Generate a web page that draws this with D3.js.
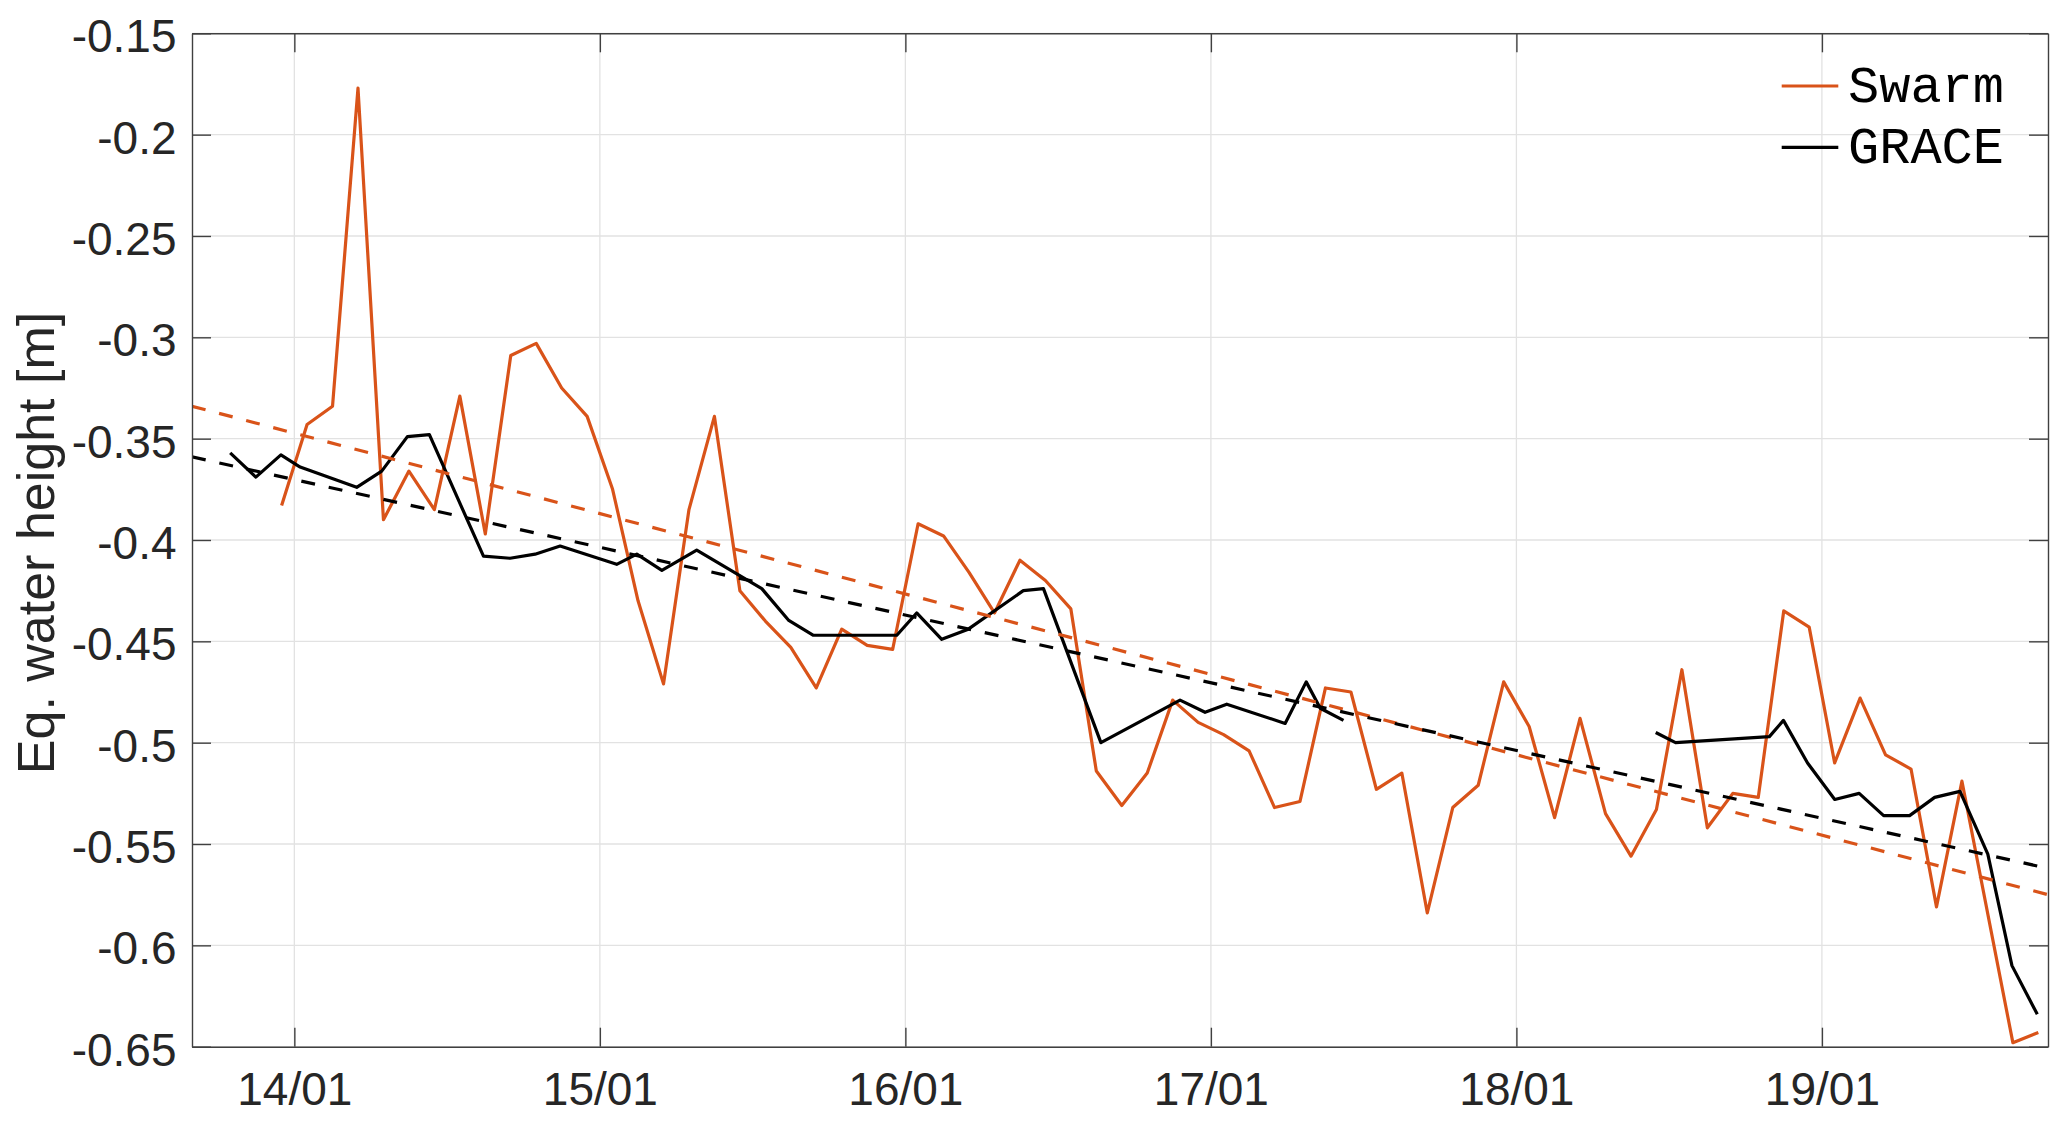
<!DOCTYPE html>
<html><head><meta charset="utf-8">
<script src="https://cdn.jsdelivr.net/npm/d3@7"></script>
<style>html,body{margin:0;padding:0;background:#fff;} svg{display:block;}</style>
</head><body>
<svg id="chart" width="2067" height="1124"></svg>
<script>
// ---- data ----
const swarmMonths = ["2013-12","2014-01","2014-02","2014-03","2014-04","2014-05","2014-06","2014-07","2014-08","2014-09","2014-10","2014-11",
  "2014-12","2015-01","2015-02","2015-03","2015-04","2015-05","2015-06","2015-07","2015-08","2015-09","2015-10","2015-11",
  "2015-12","2016-01","2016-02","2016-03","2016-04","2016-05","2016-06","2016-07","2016-08","2016-09","2016-10","2016-11",
  "2016-12","2017-01","2017-02","2017-03","2017-04","2017-05","2017-06","2017-07","2017-08","2017-09","2017-10","2017-11",
  "2017-12","2018-01","2018-02","2018-03","2018-04","2018-05","2018-06","2018-07","2018-08","2018-09","2018-10","2018-11",
  "2018-12","2019-01","2019-02","2019-03","2019-04","2019-05","2019-06","2019-08","2019-09"];
const swarmValues = [-0.383,-0.343,-0.334,-0.177,-0.390,-0.366,-0.385,-0.329,-0.397,-0.309,-0.303,-0.325,
  -0.339,-0.375,-0.430,-0.471,-0.385,-0.339,-0.425,-0.440,-0.453,-0.473,-0.444,-0.452,
  -0.454,-0.392,-0.398,-0.416,-0.436,-0.410,-0.420,-0.434,-0.514,-0.531,-0.515,-0.479,
  -0.490,-0.496,-0.504,-0.532,-0.529,-0.473,-0.475,-0.523,-0.515,-0.584,-0.532,-0.521,
  -0.470,-0.492,-0.537,-0.488,-0.535,-0.556,-0.533,-0.464,-0.542,-0.525,-0.527,-0.435,
  -0.443,-0.510,-0.478,-0.506,-0.513,-0.581,-0.519,-0.648,-0.643];

const graceYears = [2013.790,2013.874,2013.956,2014.019,2014.204,2014.286,2014.370,2014.442,2014.619,2014.706,2014.788,2014.870,
  2015.055,2015.121,2015.203,2015.317,2015.530,2015.617,2015.699,2015.972,2016.037,2016.119,2016.206,2016.386,2016.452,
  2016.640,2016.899,2016.981,2017.052,2017.243,2017.312,2017.358,2017.434,
  2017.900,
  2018.456,2018.521,2018.828,2018.874,2018.953,2019.042,2019.122,2019.202,2019.287,2019.369,2019.452,2019.543,2019.622,2019.705];
const graceValues = [-0.357,-0.369,-0.358,-0.364,-0.374,-0.366,-0.349,-0.348,-0.408,-0.409,-0.407,-0.403,
  -0.412,-0.407,-0.415,-0.405,-0.424,-0.4395,-0.447,-0.447,-0.436,-0.449,-0.444,-0.425,-0.424,
  -0.500,-0.479,-0.485,-0.481,-0.4905,-0.470,-0.483,-0.489,
  null,
  -0.495,-0.500,-0.497,-0.489,-0.510,-0.528,-0.525,-0.536,-0.536,-0.527,-0.524,-0.555,-0.610,-0.634];

const trendYears = [2013.665, 2019.740];
const swarmTrend = [-0.334, -0.575];
const graceTrend = [-0.359, -0.562];

const xDomain = [2013.665, 2019.740];
const yDomain = [-0.65, -0.15];
const xTickValues = [2014, 2015, 2016, 2017, 2018, 2019];
const xTickLabels = ["14/01", "15/01", "16/01", "17/01", "18/01", "19/01"];
const yTickValues = [-0.65, -0.6, -0.55, -0.5, -0.45, -0.4, -0.35, -0.3, -0.25, -0.2, -0.15];
const yTickLabels = ["-0.65", "-0.6", "-0.55", "-0.5", "-0.45", "-0.4", "-0.35", "-0.3", "-0.25", "-0.2", "-0.15"];
const seriesNames = ["Swarm", "GRACE"];
const seriesColors = ["#D95319", "#000000"];
const yLabel = "Eq. water height [m]";

// ---- layout ----
const L = 192, R = 2048, T = 33.3, B = 1046.7;
const svg = d3.select("#chart");
const x = d3.scaleLinear().domain(xDomain).range([L, R]);
const y = d3.scaleLinear().domain(yDomain).range([B, T]);
const tickFont = "'Liberation Sans', Arial, Helvetica, sans-serif";
const axisColor = "#404040";
const textColor = "#262626";
const lw = 3.2;

svg.append("rect").attr("x",0).attr("y",0).attr("width",2067).attr("height",1124).attr("fill","#fff");

// grid
const grid = svg.append("g").attr("stroke", "#e2e2e2").attr("stroke-width", 1.3);
grid.selectAll("line.gx").data(xTickValues).join("line")
  .attr("x1", d => x(d)).attr("x2", d => x(d)).attr("y1", T).attr("y2", B);
grid.selectAll("line.gy").data(yTickValues).join("line")
  .attr("x1", L).attr("x2", R).attr("y1", d => y(d)).attr("y2", d => y(d));

// clip
svg.append("clipPath").attr("id","clip").append("rect")
  .attr("x", L).attr("y", T).attr("width", R - L).attr("height", B - T);
const plot = svg.append("g").attr("clip-path","url(#clip)");

const swarmData = swarmMonths.map((m, i) => {
  const [yy, mm] = m.split("-").map(Number);
  return { t: yy + (mm - 0.5) / 12, v: swarmValues[i] };
});
const graceData = graceYears.map((t, i) => ({ t, v: graceValues[i] }));

const line = d3.line().defined(d => d.v !== null).x(d => x(d.t)).y(d => y(d.v));

plot.append("path").datum(swarmData).attr("d", line)
  .attr("fill","none").attr("stroke", seriesColors[0]).attr("stroke-width", lw)
  .attr("stroke-linejoin","round");
plot.append("path").datum(graceData).attr("d", line)
  .attr("fill","none").attr("stroke", seriesColors[1]).attr("stroke-width", lw)
  .attr("stroke-linejoin","round");

const trendS = trendYears.map((t, i) => ({ t, v: swarmTrend[i] }));
const trendG = trendYears.map((t, i) => ({ t, v: graceTrend[i] }));
plot.append("path").datum(trendS).attr("d", line)
  .attr("fill","none").attr("stroke", seriesColors[0]).attr("stroke-width", lw)
  .attr("stroke-dasharray","14,14");
plot.append("path").datum(trendG).attr("d", line)
  .attr("fill","none").attr("stroke", seriesColors[1]).attr("stroke-width", lw)
  .attr("stroke-dasharray","14,14");

// axes
function styleAxis(g) {
  g.select(".domain").attr("stroke", axisColor).attr("stroke-width", 1.4);
  g.selectAll(".tick line").attr("stroke", axisColor).attr("stroke-width", 1.4);
  g.selectAll(".tick text").attr("fill", textColor)
    .style("font-family", tickFont).style("font-size", "46px");
}
const gB = svg.append("g").attr("transform", `translate(0,${B})`)
  .call(d3.axisBottom(x).tickValues(xTickValues).tickFormat((d, i) => xTickLabels[i])
    .tickSizeInner(-19).tickSizeOuter(0));
styleAxis(gB);
gB.selectAll(".tick text").attr("y", 58.5).attr("dy", 0);

const gT = svg.append("g").attr("transform", `translate(0,${T})`)
  .call(d3.axisTop(x).tickValues(xTickValues).tickFormat("").tickSizeInner(-19).tickSizeOuter(0));
styleAxis(gT);

const gL = svg.append("g").attr("transform", `translate(${L},0)`)
  .call(d3.axisLeft(y).tickValues(yTickValues).tickFormat((d, i) => yTickLabels[i])
    .tickSizeInner(-19).tickSizeOuter(0));
styleAxis(gL);
gL.selectAll(".tick text").attr("x", -15.5).attr("dy", 0).attr("y", 18.5);

const gR = svg.append("g").attr("transform", `translate(${R},0)`)
  .call(d3.axisRight(y).tickValues(yTickValues).tickFormat("").tickSizeInner(-19).tickSizeOuter(0));
styleAxis(gR);

// y label
svg.append("text")
  .attr("transform", `translate(54,${(T + B) / 2 + 3}) rotate(-90)`)
  .attr("text-anchor", "middle")
  .attr("fill", textColor)
  .style("font-family", tickFont).style("font-size", "52px")
  .text(yLabel);

// legend
const legend = svg.append("g");
const legendY = [86, 147.3];
seriesNames.forEach((name, i) => {
  legend.append("line").attr("x1", 1781.7).attr("x2", 1838.3)
    .attr("y1", legendY[i]).attr("y2", legendY[i])
    .attr("stroke", seriesColors[i]).attr("stroke-width", lw);
  legend.append("text").attr("x", 1848).attr("y", legendY[i] + 15.8)
    .attr("fill", "#000")
    .style("font-family", "'Courier New', Courier, 'Liberation Mono', monospace")
    .style("font-size", "52px")
    .text(name);
});
</script>
</body></html>
